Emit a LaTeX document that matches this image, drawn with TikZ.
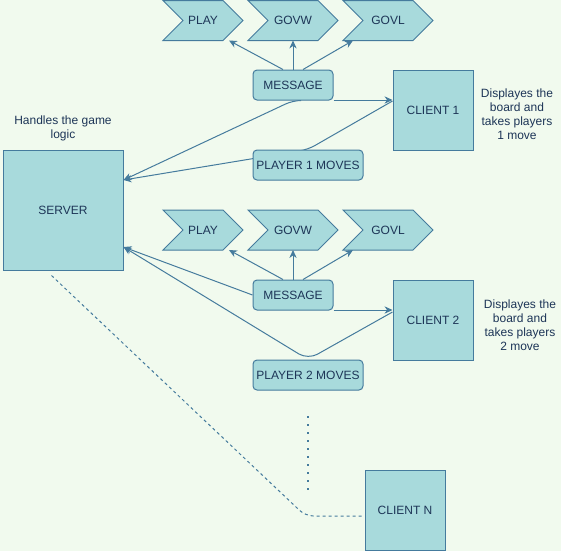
\documentclass[tikz,border=0pt]{standalone}
\usepackage{fontspec}
\setmainfont{Liberation Sans}
\usetikzlibrary{arrows.meta,calc}
\definecolor{bgc}{HTML}{F1FAEE}
\definecolor{fillc}{HTML}{A8DADC}
\definecolor{strokec}{HTML}{457B9D}
\definecolor{textc}{HTML}{1D3557}
\pgfdeclarelayer{bgfill}
\pgfdeclarelayer{edges}
\pgfsetlayers{bgfill,edges,main}
\tikzset{
  lbl/.style={text=textc, font=\fontsize{9}{10.5}\selectfont, inner sep=0pt},
  box/.style={lbl, draw=strokec, fill=fillc, line width=0.75pt},
  sqbox/.style={box, minimum width=60pt, minimum height=60pt},
  rbox/.style={box, rounded corners=3pt, minimum height=22.5pt},
  chevst/.style={draw=strokec, fill=fillc, line width=0.75pt, line join=miter},
  note/.style={lbl, align=center},
  conn/.style={draw=strokec, line width=0.75pt, -{Stealth[length=6pt,width=5.5pt]}},
  plain/.style={draw=strokec, line width=0.75pt},
}
\newcommand\chevnode[5]{%
  \draw[chevst] (#1,#2) -- (#1+#3-20,#2) -- (#1+#3,#2+20) -- (#1+#3-20,#2+40)
     -- (#1,#2+40) -- (#1+20,#2+20) -- cycle;
  \node[lbl] (#4) at (#1+#3/2,#2+20) {#5};}
\begin{document}
\begin{tikzpicture}[x=0.75pt,y=-0.75pt]
\useasboundingbox (0,0) rectangle (561,551);
\begin{pgfonlayer}{bgfill}
  \fill[bgc] (0,0) rectangle (561,551);
\end{pgfonlayer}

% top group
\chevnode{163}{0.5}{80}{play1}{PLAY}
\chevnode{248}{0.5}{90}{govw1}{GOVW}
\chevnode{343}{0.5}{90}{govl1}{GOVL}
\node[rbox, minimum width=60pt] (msg1) at (293,85) {MESSAGE};
\node[sqbox] (client1) at (433,110) {CLIENT 1};
\node[rbox, minimum width=82.5pt] (player1) at (308,165) {PLAYER 1 MOVES};
\node[note] (note1) at (517,114) {Displayes the\\board and\\takes players\\1 move};

% server
\node[box, minimum width=90pt, minimum height=90pt] (server) at (63,210) {SERVER};
\node[note] (servernote) at (63,128.5) {Handles the game\\logic};

% second group
\chevnode{163}{210}{80}{play2}{PLAY}
\chevnode{248}{210}{90}{govw2}{GOVW}
\chevnode{343}{210}{90}{govl2}{GOVL}
\node[rbox, minimum width=60pt] (msg2) at (293,295) {MESSAGE};
\node[sqbox] (client2) at (433,320) {CLIENT 2};
\node[rbox, minimum width=82.5pt] (player2) at (308,375) {PLAYER 2 MOVES};
\node[note] (note2) at (520,325) {Displayes the\\board and\\takes players\\2 move};

% client N
\node[sqbox] (clientN) at (405,510) {CLIENT N};

% coordinates
\coordinate (p1t) at ($(play1)+(26,20)$);
\coordinate (w1t) at ($(govw1)+(0,20)$);
\coordinate (l1t) at ($(govl1)+(-35,20)$);
\coordinate (p2t) at ($(play2)+(26,20)$);
\coordinate (w2t) at ($(govw2)+(0,20)$);
\coordinate (l2t) at ($(govl2)+(-35,20)$);
\coordinate (srvA) at ($(server.east)+(0,-30)$);
\coordinate (srvB) at ($(server.east)+(0,37)$);
\coordinate (dashS) at ($(server.south west)+(49,5)$);
\coordinate (dotA) at (308,416);
\coordinate (dotB) at (308,491);

\begin{pgfonlayer}{edges}
  % group 1
  \draw[conn] ($(msg1.north)+(-10,0)$) -- (p1t);
  \draw[conn] (msg1.north) -- (w1t);
  \draw[conn] ($(msg1.north)+(10,0)$) -- (l1t);
  \draw[conn] ($(msg1.south east)+(0,-0.5)$) -- ($(msg1.south east -| client1.west)+(0,-0.5)$);
  \draw[conn, rounded corners=6pt] ($(msg1.south)+(6,0)$) -- (msg1.south) -- (srvA);
  \draw[conn, rounded corners=6pt] ($(client1.west)+(0,-9)$) -- (player1.north) -- (srvA);
  % group 2
  \draw[conn] ($(msg2.north)+(-10,0)$) -- (p2t);
  \draw[conn] (msg2.north) -- (w2t);
  \draw[conn] ($(msg2.north)+(10,0)$) -- (l2t);
  \draw[conn] ($(msg2.south east)+(0,-0.5)$) -- ($(msg2.south east -| client2.west)+(0,-0.5)$);
  \draw[conn] (msg2.west) -- (srvB);
  \draw[conn, rounded corners=8pt] ($(client2.west)+(0,-8)$) -- (player2.north) -- (srvB);
  % client N
  \draw[plain, dash pattern=on 2.25pt off 2.25pt, rounded corners=6pt]
     (dashS) -- ($(clientN.west)+(-59,6)$) -- ($(clientN.west)+(0,6)$);
  \draw[draw=strokec, line width=1.5pt, dash pattern=on 1.5pt off 4.5pt] (dotA) -- (dotB);
\end{pgfonlayer}
\end{tikzpicture}
\end{document}
